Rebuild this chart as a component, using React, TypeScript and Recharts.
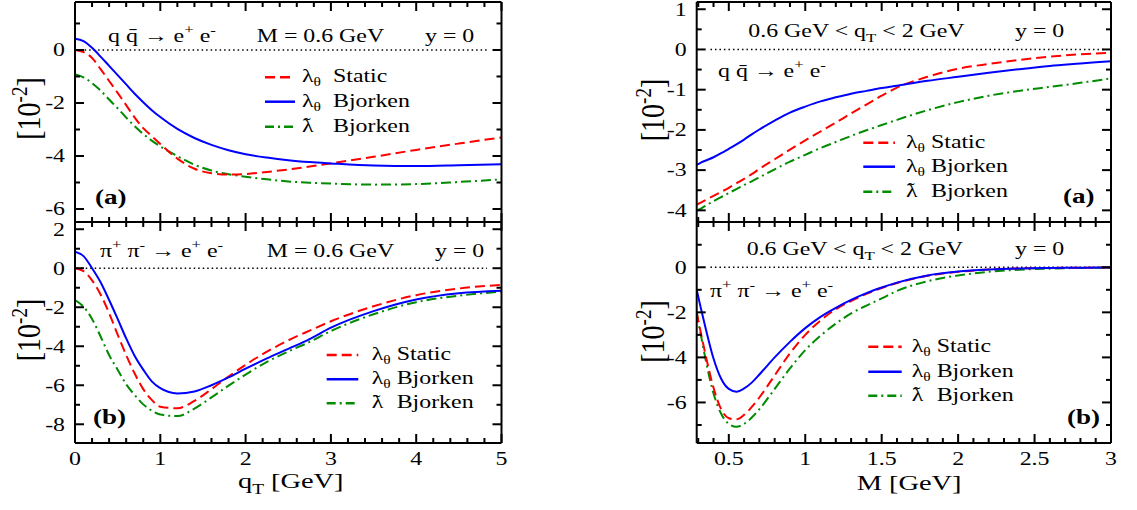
import React from 'react';
import { LineChart, Line, XAxis, YAxis, ReferenceLine } from 'recharts';

const W = 1137;
const H = 510;
const FONT = '"Liberation Serif", "Times New Roman", Times, serif';
const SX = 1.29;

// ---------- data: left column (x = q_T in GeV) ----------
const qT = [0, 0.1, 0.2, 0.3, 0.4, 0.5, 0.6, 0.7, 0.8, 0.9, 1.0, 1.2, 1.4, 1.6, 1.8, 2.0, 2.25, 2.5, 2.75, 3.0, 3.5, 4.0, 4.5, 5.0];
const qqStatic = [0, -0.08, -0.3, -0.72, -1.17, -1.62, -2.08, -2.55, -2.95, -3.25, -3.55, -4.1, -4.48, -4.65, -4.7, -4.68, -4.6, -4.51, -4.4, -4.28, -4.03, -3.77, -3.53, -3.3];
const qqBjorken = [0.42, 0.33, 0.08, -0.25, -0.6, -0.95, -1.3, -1.65, -1.97, -2.27, -2.53, -2.98, -3.32, -3.58, -3.78, -3.93, -4.06, -4.16, -4.23, -4.28, -4.36, -4.38, -4.35, -4.31];
const qqTilde = [-0.91, -1.03, -1.25, -1.53, -1.87, -2.2, -2.55, -2.88, -3.17, -3.42, -3.64, -4.0, -4.33, -4.55, -4.69, -4.78, -4.88, -4.96, -5.01, -5.04, -5.08, -5.06, -4.98, -4.88];
const ppStatic = [0, -0.15, -0.62, -1.35, -2.3, -3.4, -4.45, -5.4, -6.2, -6.75, -7.1, -7.18, -6.8, -6.2, -5.55, -4.95, -4.28, -3.7, -3.2, -2.72, -1.95, -1.38, -1.04, -0.85];
const ppBjorken = [0.85, 0.62, 0.0, -0.72, -1.63, -2.6, -3.6, -4.5, -5.2, -5.8, -6.15, -6.42, -6.32, -6.0, -5.6, -5.15, -4.62, -4.13, -3.63, -3.05, -2.2, -1.6, -1.28, -1.15];
const ppTilde = [-1.63, -1.97, -2.6, -3.5, -4.45, -5.2, -5.95, -6.5, -6.98, -7.3, -7.5, -7.58, -7.2, -6.62, -6.02, -5.45, -4.8, -4.27, -3.78, -3.22, -2.36, -1.74, -1.41, -1.2];

// ---------- data: right column (x = M in GeV) ----------
const massM = [0.29, 0.3, 0.32, 0.35, 0.4, 0.45, 0.5, 0.55, 0.6, 0.65, 0.7, 0.8, 0.9, 1.0, 1.1, 1.2, 1.3, 1.4, 1.5, 1.6, 1.8, 2.0, 2.2, 2.4, 2.6, 2.8, 3.0];
const mqqStatic = [-3.86, -3.84, -3.8, -3.74, -3.64, -3.54, -3.44, -3.33, -3.22, -3.1, -2.97, -2.73, -2.49, -2.26, -2.04, -1.82, -1.59, -1.37, -1.15, -0.95, -0.68, -0.48, -0.36, -0.26, -0.18, -0.12, -0.08];
const mqqBjorken = [-2.87, -2.85, -2.81, -2.76, -2.68, -2.58, -2.47, -2.36, -2.24, -2.11, -1.99, -1.77, -1.57, -1.42, -1.29, -1.19, -1.1, -1.03, -0.96, -0.9, -0.78, -0.68, -0.58, -0.49, -0.41, -0.35, -0.29];
const mqqTilde = [-4.01, -3.99, -3.95, -3.88, -3.77, -3.67, -3.57, -3.47, -3.37, -3.28, -3.18, -2.98, -2.79, -2.62, -2.45, -2.3, -2.15, -2.01, -1.88, -1.75, -1.51, -1.31, -1.15, -1.03, -0.93, -0.83, -0.72];
const mppStatic = [-2.0, -2.35, -3.0, -3.95, -5.35, -6.3, -6.7, -6.75, -6.55, -6.2, -5.78, -4.8, -3.82, -3.0, -2.36, -1.86, -1.5, -1.18, -0.92, -0.7, -0.38, -0.2, -0.1, -0.05, -0.03, -0.02, -0.01];
const mppBjorken = [-1.0, -1.3, -1.9, -2.75, -4.05, -4.95, -5.4, -5.52, -5.38, -5.12, -4.76, -4.0, -3.31, -2.7, -2.2, -1.8, -1.45, -1.15, -0.9, -0.68, -0.36, -0.19, -0.1, -0.05, -0.03, -0.02, -0.01];
const mppTilde = [-2.0, -2.4, -3.1, -4.15, -5.6, -6.5, -6.95, -7.08, -6.95, -6.67, -6.3, -5.4, -4.49, -3.68, -3.04, -2.5, -2.05, -1.7, -1.38, -1.05, -0.62, -0.36, -0.2, -0.11, -0.06, -0.03, -0.02];

// ---------- ticks ----------
const qTTicks = [0, 0.2, 0.4, 0.6, 0.8, 1, 1.2, 1.4, 1.6, 1.8, 2, 2.2, 2.4, 2.6, 2.8, 3, 3.2, 3.4, 3.6, 3.8, 4, 4.2, 4.4, 4.6, 4.8, 5];
const qTMajor = [0, 1, 2, 3, 4, 5];
const massTicks = [0.3, 0.4, 0.5, 0.6, 0.7, 0.8, 0.9, 1, 1.1, 1.2, 1.3, 1.4, 1.5, 1.6, 1.7, 1.8, 1.9, 2, 2.1, 2.2, 2.3, 2.4, 2.5, 2.6, 2.7, 2.8, 2.9, 3];
const massMajor = [0.5, 1, 1.5, 2, 2.5, 3];
const yTicksLA = [-6, -5, -4, -3, -2, -1, 0, 1];
const yMajorLA = [-6, -4, -2, 0];
const yTicksLB = [-8, -7, -6, -5, -4, -3, -2, -1, 0, 1, 2];
const yMajorLB = [-8, -6, -4, -2, 0, 2];
const yTicksRA = [-4, -3.5, -3, -2.5, -2, -1.5, -1, -0.5, 0, 0.5, 1];
const yMajorRA = [-4, -3, -2, -1, 0, 1];
const yTicksRB = [-7, -6, -5, -4, -3, -2, -1, 0, 1];
const yMajorRB = [-6, -4, -2, 0];

// extent of the dotted zero line in each panel (x range, data units)
const zeroLA: [number, number] = [0.06, 4.83];
const zeroLB: [number, number] = [0.02, 4.83];
const zeroRA: [number, number] = [0.38, 2.95];
const zeroRB: [number, number] = [0.38, 2.99];

const RED = '#ff0000';
const BLUE = '#0000ff';
const GREEN = '#008b00';
const DASH_RED = '10 5';
const DASH_GREEN = '10 4 2 4';
const AXIS = { stroke: '#000', strokeWidth: 2 };

const near = (v: number, list: number[]) => list.some((m) => Math.abs(m - v) < 1e-6);

function makeTick(side: string, majors: number[], showLabels: boolean) {
  return (props: any) => {
    const { x, y, payload } = props;
    const v = payload.value;
    const major = near(v, majors);
    const len = major ? 9 : 5;
    let x2 = x;
    let y2 = y;
    if (side === 'left') x2 = x + len;
    if (side === 'right') x2 = x - len;
    if (side === 'bottom') y2 = y - len;
    if (side === 'top') y2 = y + len;
    let label = null;
    if (showLabels && major) {
      if (side === 'left') {
        label = (
          <text transform={`translate(${x - 10},${y + 6.3}) scale(${SX},1)`} textAnchor="end" fontSize={18.5} fontFamily={FONT} fill="#000">
            {String(v)}
          </text>
        );
      } else if (side === 'bottom') {
        label = (
          <text transform={`translate(${x},${y + 22}) scale(${SX},1)`} textAnchor="middle" fontSize={18.5} fontFamily={FONT} fill="#000">
            {String(v)}
          </text>
        );
      }
    }
    return (
      <g>
        <line x1={x} y1={y} x2={x2} y2={y2} stroke="#000" strokeWidth={2} />
        {label}
      </g>
    );
  };
}

type PanelProps = {
  frame: { l: number; r: number; t: number; b: number };
  xs: number[];
  s: number[];
  bj: number[];
  td: number[];
  xDomain: [number, number];
  yDomain: [number, number];
  xTicks: number[];
  xMajors: number[];
  xLabels: boolean;
  yTicks: number[];
  yMajors: number[];
  zero: [number, number];
};

function Panel(p: PanelProps) {
  const rows = p.xs.map((x, i) => ({ x, s: p.s[i], b: p.bj[i], t: p.td[i] }));
  // every axis occupies 1px outside the plot area, so margins are reduced by 1
  return (
    <div style={{ position: 'absolute', left: 0, top: 0 }}>
      <LineChart
        width={W}
        height={H}
        data={rows}
        margin={{ top: p.frame.t - 1, left: p.frame.l - 1, right: W - p.frame.r - 1, bottom: H - p.frame.b - 1 }}
      >
        <XAxis xAxisId="bx" dataKey="x" type="number" domain={p.xDomain} ticks={p.xTicks} interval={0} height={1} tickSize={0} tickMargin={0} tickLine={false} axisLine={AXIS} tick={makeTick('bottom', p.xMajors, p.xLabels)} allowDataOverflow />
        <XAxis xAxisId="tx" orientation="top" dataKey="x" type="number" domain={p.xDomain} ticks={p.xTicks} interval={0} height={1} tickSize={0} tickMargin={0} tickLine={false} axisLine={AXIS} tick={makeTick('top', p.xMajors, false)} allowDataOverflow />
        <YAxis yAxisId="ly" type="number" domain={p.yDomain} ticks={p.yTicks} interval={0} width={1} tickSize={0} tickMargin={0} tickLine={false} axisLine={AXIS} tick={makeTick('left', p.yMajors, true)} allowDataOverflow />
        <YAxis yAxisId="ry" orientation="right" type="number" domain={p.yDomain} ticks={p.yTicks} interval={0} width={1} tickSize={0} tickMargin={0} tickLine={false} axisLine={AXIS} tick={makeTick('right', p.yMajors, false)} allowDataOverflow />
        <ReferenceLine
          xAxisId="bx"
          yAxisId="ly"
          segment={[{ x: p.zero[0], y: 0 }, { x: p.zero[1], y: 0 }]}
          stroke="#000"
          strokeWidth={1.5}
          strokeDasharray="1.5 3"
        />
        <Line xAxisId="bx" yAxisId="ly" type="monotone" dataKey="t" stroke={GREEN} strokeWidth={2} strokeDasharray={DASH_GREEN} dot={false} activeDot={false} isAnimationActive={false} />
        <Line xAxisId="bx" yAxisId="ly" type="monotone" dataKey="s" stroke={RED} strokeWidth={2} strokeDasharray={DASH_RED} dot={false} activeDot={false} isAnimationActive={false} />
        <Line xAxisId="bx" yAxisId="ly" type="monotone" dataKey="b" stroke={BLUE} strokeWidth={2} dot={false} activeDot={false} isAnimationActive={false} />
      </LineChart>
    </div>
  );
}

function Txt(props: { x: number; y: number; size?: number; anchor?: string; weight?: string; children: any }) {
  const { x, y, size = 18.5, anchor = 'start', weight = 'normal', children } = props;
  return (
    <text transform={`translate(${x},${y}) scale(${SX},1)`} textAnchor={anchor as any} fontSize={size} fontFamily={FONT} fontWeight={weight} fill="#000">
      {children}
    </text>
  );
}

function QQ({ x, y }: { x: number; y: number }) {
  return (
    <Txt x={x} y={y}>
      {'q q\u0304 \u2192 e'}
      <tspan dy={-8} fontSize={13}>+</tspan>
      <tspan dy={8}> e</tspan>
      <tspan dy={-8} fontSize={13}>-</tspan>
    </Txt>
  );
}

function PiPi({ x, y }: { x: number; y: number }) {
  return (
    <Txt x={x} y={y}>
      {'\u03C0'}
      <tspan dy={-8} fontSize={13}>+</tspan>
      <tspan dy={8}>{' \u03C0'}</tspan>
      <tspan dy={-8} fontSize={13}>-</tspan>
      <tspan dy={8}>{' \u2192 e'}</tspan>
      <tspan dy={-8} fontSize={13}>+</tspan>
      <tspan dy={8}> e</tspan>
      <tspan dy={-8} fontSize={13}>-</tspan>
    </Txt>
  );
}

function QTRange({ x, y }: { x: number; y: number }) {
  return (
    <Txt x={x} y={y}>
      {'0.6 GeV < q'}
      <tspan dy={5} fontSize={13}>T</tspan>
      <tspan dy={-5}>{' < 2 GeV'}</tspan>
    </Txt>
  );
}

function LegendBlock(props: { x1: number; x2: number; tx: number; gap: number; ys: number[] }) {
  const { x1, x2, tx, gap, ys } = props;
  const items = [
    { c: RED, d: DASH_RED, sym: 'theta', word: 'Static' },
    { c: BLUE, d: undefined, sym: 'theta', word: 'Bjorken' },
    { c: GREEN, d: '9 4 2 4', sym: 'tilde', word: 'Bjorken' },
  ];
  return (
    <g>
      {items.map((it, i) => (
        <g key={i}>
          <line x1={x1} x2={x2} y1={ys[i]} y2={ys[i]} stroke={it.c} strokeWidth={2.5} strokeDasharray={it.d} />
          {it.sym === 'theta' ? (
            <Txt x={tx} y={ys[i] + 5}>
              {'\u03BB'}
              <tspan dy={4} fontSize={12}>{'\u03B8'}</tspan>
            </Txt>
          ) : (
            <Txt x={tx} y={ys[i] + 5}>
              {'\u03BB'}
              <tspan dx={-7.6} dy={-2.5} fontSize={16}>{'\u02DC'}</tspan>
            </Txt>
          )}
          <Txt x={tx + gap} y={ys[i] + 5}>{it.word}</Txt>
        </g>
      ))}
    </g>
  );
}

function YTitle({ x, y }: { x: number; y: number }) {
  return (
    <text transform={`translate(${x},${y}) rotate(-90) scale(1,1.2)`} textAnchor="middle" fontSize={28} fontFamily={FONT} fill="#000">
      [10
      <tspan dy={-11} fontSize={19}>-2</tspan>
      <tspan dy={11}>]</tspan>
    </text>
  );
}

export default function App() {
  const LF = { l: 75, r: 501.5 };
  const RF = { l: 696.7, r: 1111 };
  return (
    <div style={{ position: 'absolute', left: 0, top: 0, width: W, height: H, background: '#fff', overflow: 'hidden' }}>
      <Panel frame={{ ...LF, t: 2, b: 222 }} xs={qT} s={qqStatic} bj={qqBjorken} td={qqTilde} xDomain={[0, 5]} yDomain={[-6.49, 1.81]} xTicks={qTTicks} xMajors={qTMajor} xLabels={false} yTicks={yTicksLA} yMajors={yMajorLA} zero={zeroLA} />
      <Panel frame={{ ...LF, t: 222, b: 443 }} xs={qT} s={ppStatic} bj={ppBjorken} td={ppTilde} xDomain={[0, 5]} yDomain={[-8.96, 2.37]} xTicks={qTTicks} xMajors={qTMajor} xLabels={true} yTicks={yTicksLB} yMajors={yMajorLB} zero={zeroLB} />
      <Panel frame={{ ...RF, t: 2, b: 222 }} xs={massM} s={mqqStatic} bj={mqqBjorken} td={mqqTilde} xDomain={[0.29, 3]} yDomain={[-4.29, 1.18]} xTicks={massTicks} xMajors={massMajor} xLabels={false} yTicks={yTicksRA} yMajors={yMajorRA} zero={zeroRA} />
      <Panel frame={{ ...RF, t: 222, b: 443 }} xs={massM} s={mppStatic} bj={mppBjorken} td={mppTilde} xDomain={[0.29, 3]} yDomain={[-7.8, 2.01]} xTicks={massTicks} xMajors={massMajor} xLabels={true} yTicks={yTicksRB} yMajors={yMajorRB} zero={zeroRB} />
      <svg width={W} height={H} style={{ position: 'absolute', left: 0, top: 0, pointerEvents: 'none' }}>
        {/* top-left */}
        <QQ x={108} y={41.5} />
        <Txt x={256.7} y={41.5}>M = 0.6 GeV</Txt>
        <Txt x={425} y={41.5}>y = 0</Txt>
        <Txt x={95} y={204} size={21} weight="bold">(a)</Txt>
        <LegendBlock x1={265} x2={295} tx={302} gap={31} ys={[77.3, 101.7, 126.7]} />
        {/* bottom-left */}
        <PiPi x={100} y={256.7} />
        <Txt x={266.7} y={256.7}>M = 0.6 GeV</Txt>
        <Txt x={435} y={256.7}>y = 0</Txt>
        <Txt x={93} y={424} size={21} weight="bold">(b)</Txt>
        <LegendBlock x1={326.7} x2={358.3} tx={371.7} gap={25} ys={[355, 379.3, 403.3]} />
        {/* top-right */}
        <QTRange x={748.3} y={37} />
        <Txt x={1015} y={37}>y = 0</Txt>
        <QQ x={718} y={77} />
        <Txt x={1063} y={203} size={21} weight="bold">(a)</Txt>
        <LegendBlock x1={863.3} x2={895} tx={906} gap={25} ys={[142.7, 166.7, 191.7]} />
        {/* bottom-right */}
        <QTRange x={746.7} y={255} />
        <Txt x={1015} y={255}>y = 0</Txt>
        <PiPi x={710} y={296.7} />
        <Txt x={1067} y={424} size={21} weight="bold">(b)</Txt>
        <LegendBlock x1={868.3} x2={901.7} tx={911.7} gap={25} ys={[346.7, 371.7, 395.7]} />
        {/* axis titles */}
        <YTitle x={40} y={108.5} />
        <YTitle x={40} y={330} />
        <YTitle x={664} y={110} />
        <YTitle x={664} y={331.5} />
        <Txt x={238} y={488} size={22}>
          q<tspan dy={6} fontSize={15}>T</tspan>
          <tspan dy={-6}> [GeV]</tspan>
        </Txt>
        <Txt x={856.7} y={490} size={22}>M [GeV]</Txt>
      </svg>
    </div>
  );
}
